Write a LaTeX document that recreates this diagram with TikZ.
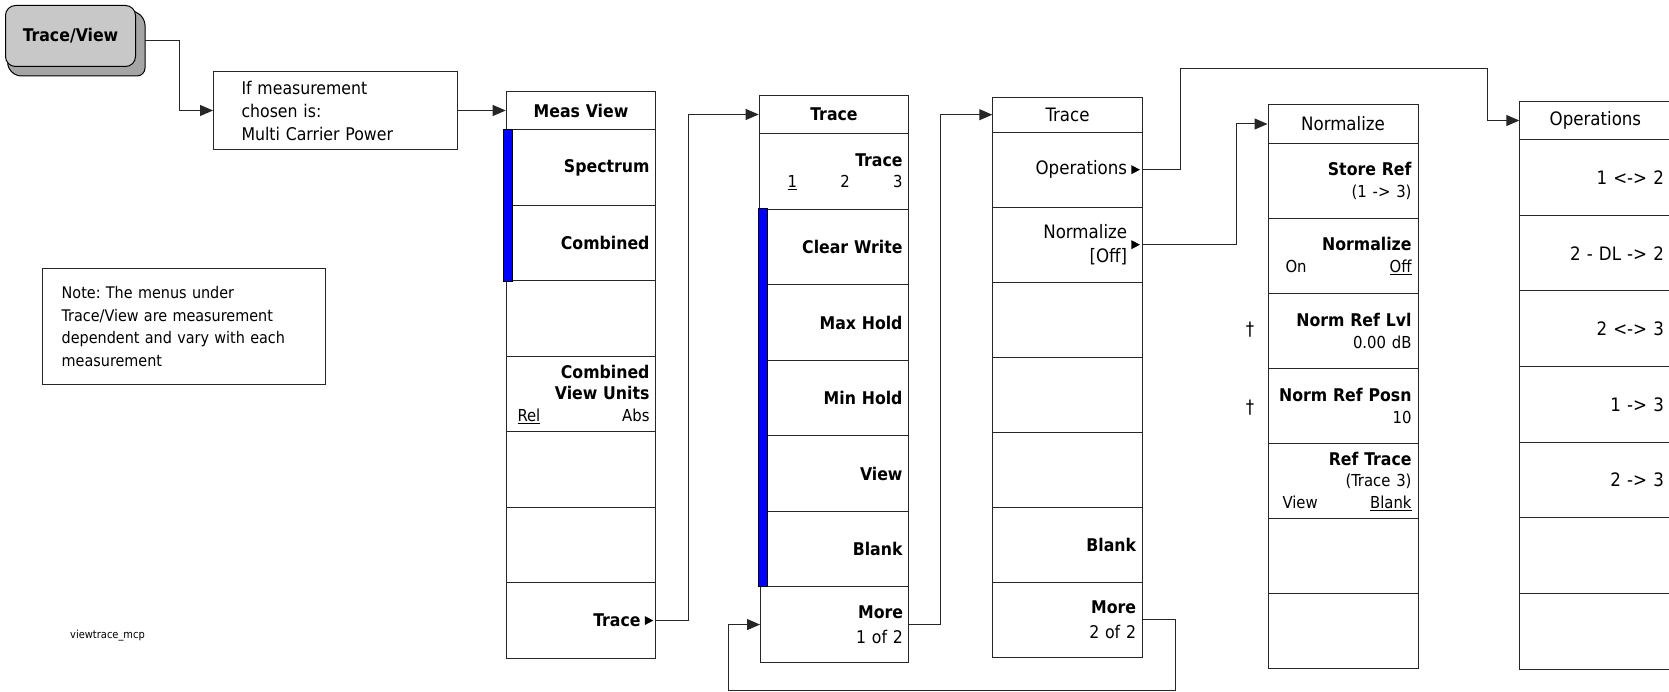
\documentclass[tikz,border=0pt]{standalone}
\usepackage{fontspec}
\setmainfont{DejaVu Sans Condensed}[BoldFont={DejaVu Sans Condensed Bold}]
\usetikzlibrary{arrows.meta}
\frenchspacing
\definecolor{keyface}{RGB}{200,200,200}
\definecolor{keyshadow}{RGB}{165,165,165}
\definecolor{menublue}{RGB}{0,0,255}
\newcommand\keyf{\fontsize{17.5}{21.5}\selectfont\bfseries}
\newcommand\regf{\fontsize{18.5}{21.5}\selectfont\mdseries}
\newcommand\mysubf{\fontsize{16.5}{21.5}\selectfont\mdseries}
\newcommand\moref{\fontsize{17.5}{21.5}\selectfont\mdseries}
\tikzset{
  menubox/.style={draw=black!85, line width=1pt, inner xsep=0pt, inner ysep=0pt,
    minimum width=149.6pt, text width=137pt, align=right, anchor=north west},
  hdrbox/.style={menubox, align=center, minimum height=38.6pt},
  keyrow/.style={menubox, font=\keyf},
  regrow/.style={menubox, font=\regf},
  conn/.style={draw=black!85, line width=1pt, -{Triangle[length=13pt,width=11pt]}},
  tipfill/.style={fill=black},
  bluebar/.style={fill=menublue, draw=black, line width=0.6pt},
}
\newcommand\tri[1]{\fill[tipfill] ([xshift=-11.5pt,yshift=4.5pt]#1.east) -- ++(0pt,-9pt) -- ++(8.5pt,4.5pt) -- cycle;}
\begin{document}
\begin{tikzpicture}[x=1pt,y=-1pt]
\useasboundingbox (0,0) rectangle (1669,692);

% ---- hardkey
\filldraw[fill=keyshadow, draw=black, line width=1pt, rounded corners=8pt]
  (122,5) -- (145,17) -- (145,76) -- (13,76) -- (5,60) -- cycle;
\node[draw=black, fill=keyface, line width=1pt, rounded corners=10pt, minimum width=130pt,
  minimum height=61pt, anchor=north west, inner sep=0pt, font=\keyf] (tv) at (5,5) {Trace/View};
\coordinate (tvout) at (145,41);

% ---- info boxes
\node[draw=black!85, line width=1pt, anchor=north west, minimum width=244pt, minimum height=78pt,
  text width=188pt, inner xsep=28pt, inner ysep=0pt, align=left,
  font=\fontsize{17.5}{23}\selectfont] (ifbox) at (213,71)
  {If measurement\\chosen is:\\Multi Carrier Power};
\node[draw=black!85, line width=1pt, anchor=north west, minimum width=283pt, minimum height=116.3pt,
  text width=244pt, inner xsep=19.5pt, inner ysep=0pt, align=left,
  font=\fontsize{16}{22.5}\selectfont] (note) at (41.7,267.7)
  {Note: The menus under\\Trace/View are measurement\\dependent and vary with each\\measurement};
\node[anchor=west, inner sep=0pt, font=\fontsize{11}{13}\selectfont] (fname) at (70,636) {viewtrace\_mcp};

% ---- Meas View column
\node[hdrbox, font=\keyf] (mvh) at (505.7,90.7) {Meas View};
\node[keyrow, minimum height=75.5pt] (mv1) at (505.7,129.3) {Spectrum};
\node[keyrow, minimum height=75.5pt] (mv2) at (505.7,204.8) {Combined};
\node[keyrow, minimum height=75.5pt] (mv3) at (505.7,280.3) {};
\node[keyrow, minimum height=75.5pt] (mv4) at (505.7,355.8)
  {Combined\\View Units\\\hbox to\hsize{\mysubf\hspace{5pt}\underline{Rel}\hfill Abs}};
\node[keyrow, minimum height=75.5pt] (mv5) at (505.7,431.3) {};
\node[keyrow, minimum height=75.5pt] (mv6) at (505.7,506.8) {};
\node[keyrow, minimum height=75.5pt] (mv7) at (505.7,582.3) {Trace\kern9pt};
\tri{mv7}
\filldraw[bluebar] (503.5,129.3) rectangle (512.7,281.3);

% ---- Trace column 1
\node[hdrbox, font=\keyf] (t1h) at (758.7,94.7) {Trace};
\node[keyrow, minimum height=75.5pt] (t1a) at (758.7,133.3)
  {Trace\\\hbox to\hsize{\mysubf\hspace{22pt}\underline{1}\hfill 2\hfill 3}};
\node[keyrow, minimum height=75.5pt] (t1b) at (758.7,208.8) {Clear Write};
\node[keyrow, minimum height=75.5pt] (t1c) at (758.7,284.3) {Max Hold};
\node[keyrow, minimum height=75.5pt] (t1d) at (758.7,359.8) {Min Hold};
\node[keyrow, minimum height=75.5pt] (t1e) at (758.7,435.3) {View};
\node[keyrow, minimum height=75.5pt] (t1f) at (758.7,510.8) {Blank};
\node[keyrow, minimum height=75.5pt, minimum width=148pt] (t1g) at (760,586.3) {More\\[3pt]{\moref 1 of 2}};
\filldraw[bluebar] (758.7,208.8) rectangle (767.7,586.3);

% ---- Trace column 2
\node[hdrbox, font=\regf, minimum height=35pt] (t2h) at (992.3,96.7) {Trace};
\node[regrow, minimum height=75pt] (t2a) at (992.3,131.7) {Operations\kern9pt};
\node[regrow, minimum height=75pt] (t2b) at (992.3,206.7) {Normalize\kern9pt\\[2pt]{[Off]\kern9pt}};
\node[keyrow, minimum height=75pt] (t2c) at (992.3,281.7) {};
\node[keyrow, minimum height=75pt] (t2d) at (992.3,356.7) {};
\node[keyrow, minimum height=75pt] (t2e) at (992.3,431.7) {};
\node[keyrow, minimum height=75pt] (t2f) at (992.3,506.7) {Blank};
\node[keyrow, minimum height=75pt] (t2g) at (992.3,581.7) {More\\[3pt]{\moref 2 of 2}};
\tri{t2a}
\tri{t2b}

% ---- Normalize column
\node[hdrbox, font=\regf, minimum height=38.4pt, minimum width=150pt] (nh) at (1267.5,104.3) {Normalize};
\node[keyrow, minimum height=75.1pt, minimum width=150pt] (n1) at (1267.5,142.7) {Store Ref\\{\mysubf (1 -> 3)}};
\node[keyrow, minimum height=75.1pt, minimum width=150pt] (n2) at (1267.5,217.8)
  {Normalize\\\hbox to\hsize{\mysubf\hspace{11pt}On\hfill\underline{Off}}};
\node[keyrow, minimum height=75.1pt, minimum width=150pt] (n3) at (1267.5,292.9) {Norm Ref Lvl\\{\mysubf 0.00 dB}};
\node[keyrow, minimum height=75.1pt, minimum width=150pt] (n4) at (1267.5,368) {Norm Ref Posn\\{\mysubf 10}};
\node[keyrow, minimum height=75.1pt, minimum width=150pt] (n5) at (1267.5,443.1)
  {Ref Trace\\{\mysubf (Trace 3)}\\\hbox to\hsize{\mysubf\hspace{8pt}View\hfill\underline{Blank}}};
\node[keyrow, minimum height=75.1pt, minimum width=150pt] (n6) at (1267.5,518.2) {};
\node[keyrow, minimum height=75.1pt, minimum width=150pt] (n7) at (1267.5,593.3) {};
\node[font=\regf, inner sep=0pt] (dg1) at (1250,330) {†};
\node[font=\regf, inner sep=0pt] (dg2) at (1250,408) {†};

% ---- Operations column
\node[hdrbox, font=\regf, minimum width=151.2pt] (oh) at (1519.3,100.7) {Operations};
\node[regrow, minimum height=75.6pt, minimum width=151.2pt] (o1) at (1519.3,139.3) {1 <-> 2};
\node[regrow, minimum height=75.6pt, minimum width=151.2pt] (o2) at (1519.3,214.9) {2 - DL -> 2};
\node[regrow, minimum height=75.6pt, minimum width=151.2pt] (o3) at (1519.3,290.5) {2 <-> 3};
\node[regrow, minimum height=75.6pt, minimum width=151.2pt] (o4) at (1519.3,366.1) {1 -> 3};
\node[regrow, minimum height=75.6pt, minimum width=151.2pt] (o5) at (1519.3,441.7) {2 -> 3};
\node[regrow, minimum height=75.6pt, minimum width=151.2pt] (o6) at (1519.3,517.3) {};
\node[regrow, minimum height=75.6pt, minimum width=151.2pt] (o7) at (1519.3,592.9) {};

% ---- connectors
\coordinate (opbend) at (1487.7,68.3);
\coordinate (loopc) at (728,690.7);
\draw[conn] (tvout) -- ++(34,0) |- (ifbox.west);
\draw[conn] (ifbox.east) -- (ifbox.east -| mvh.west);
\draw[conn] (mv7.east) -- ++(32,0) |- (t1h.west);
\draw[conn] (t1g.east) -- ++(31,0) |- (t2h.west);
\draw[conn] (t2a.east) -- ++(38,0) |- (opbend) |- (oh.west);
\draw[conn] (t2b.east) -- ++(93.4,0) |- (nh.west);
\draw[conn] (t2g.east) -- ++(32.7,0) |- (loopc) |- (t1g.west);
\end{tikzpicture}
\end{document}
